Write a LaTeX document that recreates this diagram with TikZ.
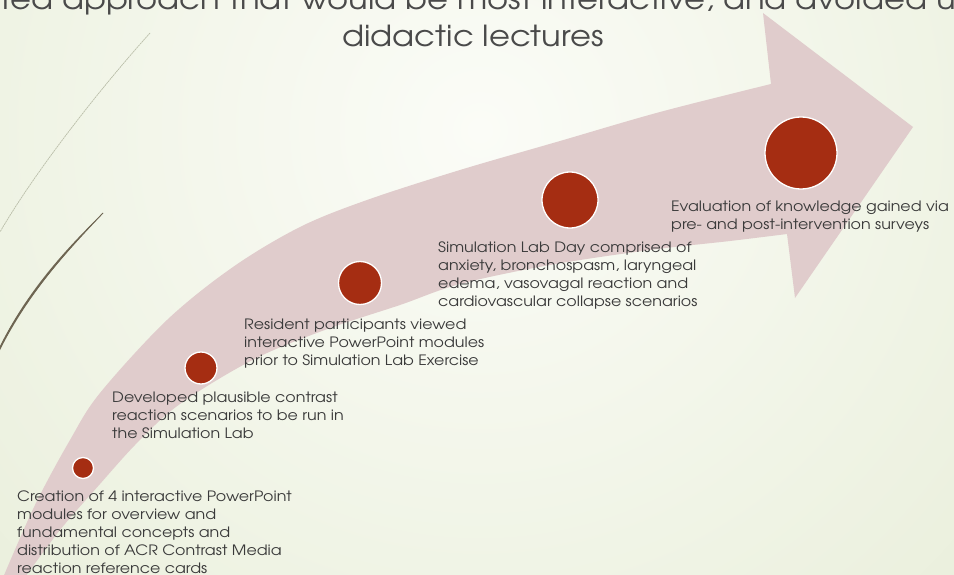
\documentclass[tikz,border=0pt]{standalone}
\usepackage{fontspec}
\setmainfont{TeX Gyre Adventor}[FakeStretch=1.11]
\definecolor{bgin}{HTML}{FBFCF7}
\definecolor{bgout}{HTML}{DCE5C6}
\definecolor{arrowpink}{HTML}{E0CCCC}
\definecolor{dotred}{HTML}{A52D12}
\definecolor{txt}{HTML}{3A3A3A}
\definecolor{ttl}{HTML}{4A4A4A}
\definecolor{swoosh}{HTML}{6E6552}
\definecolor{faint}{HTML}{B9BDA8}
\tikzset{
  dot/.style={circle, fill=dotred, draw=white, line width=1.3pt, inner sep=0},
  lbl/.style={anchor=north west, inner sep=0, align=left, text=txt,
              font=\fontsize{14.3}{18}\selectfont},
  ttlstyle/.style={anchor=base, inner sep=0, text=ttl,
              font=\fontsize{29}{34}\selectfont}
}
\begin{document}
\begin{tikzpicture}[x=1pt,y=-1pt]
\useasboundingbox (0,0) rectangle (954,575);
\begin{scope}
\clip (0,0) rectangle (954,575);
\fill[bgout] (0,0) rectangle (954,575);
\shade[inner color=bgin, outer color=bgout] (480,130) circle (1250);
% faint decorative line
\draw[faint, line width=0.7pt, dash pattern=on 2pt off 0.6pt] (150,33) .. controls (90,100) and (30,180) .. (0,232);
% dark swoosh
\fill[swoosh] (103,213) .. controls (60,258) and (25,300) .. (0,350)
   -- (0,346) .. controls (24,298) and (58,256) .. cycle;
\draw[swoosh, line width=0.9pt] (103,213) .. controls (60,258) and (24,299) .. (0,348);
% big curved arrow
\fill[arrowpink] plot[smooth, tension=0.55] coordinates {(2,580) (35,505) (70,440) (100,393) (167,320) (233,267) (300,227) (367,200) (460,170) (560,141) (660,112) (771,84)}
  -- (763,13) -- (913,127) -- (795,298) --
  plot[smooth, tension=0.55] coordinates {(787,234) (730,241) (650,250) (550,265) (460,284) (400,305) (333,327) (267,353) (217,380) (172,410) (135,445) (100,484) (60,530) (23,580)} -- cycle;
% title (cut at the slide edges)
\node[ttlstyle] (title1) at (478,10) {ted approach that would be most interactive, and avoided u};
\node[ttlstyle] (title2) at (473,47) {didactic lectures};
\end{scope}
% milestones
\node[dot, minimum size=21pt] (d1) at (83,468) {};
\node[dot, minimum size=32pt] (d2) at (201,368) {};
\node[dot, minimum size=43pt] (d3) at (360,283) {};
\node[dot, minimum size=56pt] (d4) at (570,200) {};
\node[dot, minimum size=72pt] (d5) at (801,153) {};
% texts
\node[lbl] (t1) at (17,491) {Creation of 4 interactive PowerPoint\\modules for overview and\\fundamental concepts and\\distribution of ACR Contrast Media\\reaction reference cards};
\node[lbl] (t2) at (112,392) {Developed plausible contrast\\reaction scenarios to be run in\\the Simulation Lab};
\node[lbl] (t3) at (244,319) {Resident participants viewed\\interactive PowerPoint modules\\prior to Simulation Lab Exercise};
\node[lbl] (t4) at (438,242) {Simulation Lab Day comprised of\\anxiety, bronchospasm, laryngeal\\edema, vasovagal reaction and\\cardiovascular collapse scenarios};
\node[lbl] (t5) at (671,201) {Evaluation of knowledge gained via\\pre- and post-intervention surveys};
\end{tikzpicture}
\end{document}
